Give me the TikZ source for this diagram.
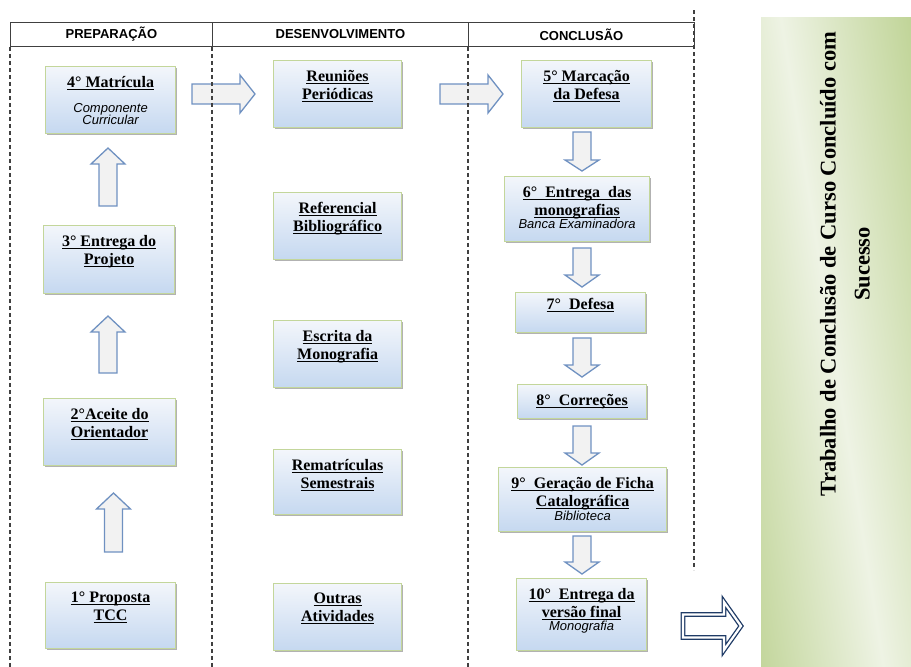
\documentclass[tikz,border=0pt]{standalone}
\usepackage{fontspec}
\setmainfont{Liberation Serif}
\newfontfamily\sansf{Liberation Sans}
\usetikzlibrary{shadows}
\definecolor{boxtop}{HTML}{F3F6FB}
\definecolor{boxbot}{HTML}{C5D8F0}
\definecolor{boxline}{HTML}{C3D69B}
\definecolor{arrline}{HTML}{6F91C1}
\definecolor{arrfill}{HTML}{F2F2F2}
\definecolor{navyc}{HTML}{1F3B66}
\definecolor{glight}{HTML}{EEF3E4}
\definecolor{gdark}{HTML}{C0D497}
\definecolor{lanec}{HTML}{404040}
\newcommand\ulx[1]{\setbox0\hbox{#1}\rlap{\rule[-2.4pt]{\wd0}{0.8pt}}\box0}
\newcommand\subt{\sansf\mdseries\itshape\fontsize{13}{12}\selectfont}
\newcommand\varrow[4]{\draw[blockarrow] ({#1-9},#2) -- ({#1-9},{#3+(#4)}) -- ({#1-17},{#3+(#4)}) -- (#1,#3) -- ({#1+17},{#3+(#4)}) -- ({#1+9},{#3+(#4)}) -- ({#1+9},#2) -- cycle;}
\newcommand\harrow[3]{\draw[blockarrow] (#2,{#1-10}) -- ({#3-15},{#1-10}) -- ({#3-15},{#1-19}) -- (#3,#1) -- ({#3-15},{#1+19}) -- ({#3-15},{#1+10}) -- (#2,{#1+10}) -- cycle;}
\begin{document}
\begin{tikzpicture}[x=1pt,y=-1pt,
  box/.style={draw=boxline, line width=1.2pt, top color=boxtop, bottom color=boxbot,
    drop shadow={shadow xshift=1.5pt, shadow yshift=-1.5pt, fill=black, opacity=.3},
    anchor=north west, inner sep=0pt},
  boxtext/.style={anchor=north, yshift=-8pt, align=center, inner sep=2pt,
    font=\fontsize{16}{18}\selectfont\bfseries, text=black},
  hcell/.style={draw=lanec, line width=0.8pt, minimum height=24, anchor=north west,
    inner sep=0pt, font=\sansf\bfseries\fontsize{13}{15}\selectfont},
  lane/.style={draw=lanec, line width=1.1pt, dash pattern=on 4pt off 3pt},
  blockarrow/.style={draw=arrline, fill=arrfill, line width=1.3pt, line join=miter},
  bigarrow/.style={draw=navyc, double=white, double distance=2.2pt, line width=1.3pt, fill=white, line join=miter}
]
\useasboundingbox (0,0) rectangle (911,667);

% result box
\node[anchor=north west, inner sep=0pt, fill=gdark, minimum width=150, minimum height=650] (gb) at (761,17) {};
\begin{scope}
  \clip (gb.north west) rectangle (gb.south east);
  \begin{scope}[transform canvas={rotate around={9:(832,342)}}]
    \shade[left color=gdark, right color=gdark, middle color=glight] (702,-100) rectangle (962,800);
  \end{scope}
\end{scope}
\node[rotate=90, align=center, font=\fontsize{22.5}{34}\selectfont\bfseries] (res) at (845,264)
  {Trabalho de Conclusão de Curso Concluído com\\Sucesso};

% left column
\node[box, minimum width=130, minimum height=67,
  label={[boxtext]north:{\ulx{4° Matrícula}\\[7pt]\subt Componente\\[-6pt]\subt Curricular}}] (m4) at (45,66) {};
\node[box, minimum width=131, minimum height=68,
  label={[boxtext]north:{\ulx{3° Entrega do}\\\ulx{Projeto}}}] (e3) at (43,225) {};
\node[box, minimum width=132, minimum height=67,
  label={[boxtext]north:{\ulx{2°Aceite do}\\\ulx{Orientador}}}] (a2) at (43,398) {};
\node[box, minimum width=130, minimum height=66,
  label={[boxtext]north:{\ulx{1° Proposta}\\\ulx{TCC}}}] (p1) at (45,582) {};

% middle column
\node[box, minimum width=128, minimum height=67,
  label={[boxtext]north:{\ulx{Reuniões}\\\ulx{Periódicas}}}] (reu) at (273,60) {};
\node[box, minimum width=128, minimum height=67,
  label={[boxtext]north:{\ulx{Referencial}\\\ulx{Bibliográfico}}}] (ref) at (273,192) {};
\node[box, minimum width=128, minimum height=67,
  label={[boxtext]north:{\ulx{Escrita da}\\\ulx{Monografia}}}] (esc) at (273,320) {};
\node[box, minimum width=128, minimum height=65,
  label={[boxtext]north:{\ulx{Rematrículas}\\\ulx{Semestrais}}}] (rem) at (273,449) {};
\node[box, minimum width=128, minimum height=67,
  label={[boxtext]north:{\ulx{Outras}\\\ulx{Atividades}}}] (out) at (273,583) {};

% right column
\node[box, minimum width=130, minimum height=67,
  label={[boxtext]north:{\ulx{5° Marcação}\\\ulx{da Defesa}}}] (c5) at (521,60) {};
\node[box, minimum width=145, minimum height=65,
  label={[boxtext]north:{\ulx{6°\enspace Entrega\enspace das}\\\ulx{monografias}\\[-5pt]\subt Banca Examinadora}}] (c6) at (504,176) {};
\node[box, minimum width=130, minimum height=40,
  label={[boxtext, yshift=4pt]north:{\ulx{7°\enspace Defesa}}}] (c7) at (515,292) {};
\node[box, minimum width=129, minimum height=34,
  label={[boxtext]north:{\ulx{8°\enspace Correções}}}] (c8) at (517,384) {};
\node[box, minimum width=168, minimum height=64,
  label={[boxtext]north:{\ulx{9°\enspace Geração de Ficha}\\\ulx{Catalográfica}\\[-4pt]\subt Biblioteca}}] (c9) at (498,467) {};
\node[box, minimum width=130, minimum height=72,
  label={[boxtext]north:{\ulx{10°\enspace Entrega da}\\\ulx{versão final}\\[-5pt]\subt Monografia}}] (c10) at (516,578) {};

% block arrows
\varrow{108}{206}{148}{16}
\varrow{108}{373}{316}{16}
\varrow{113.5}{552}{493}{16}
\harrow{94}{192}{255}
\harrow{94}{440}{503}
\varrow{582}{132}{171}{-11}
\varrow{582}{248}{287}{-12}
\varrow{582}{338}{377}{-12}
\varrow{582}{426}{465}{-12}
\varrow{582}{536}{574}{-12}
\draw[bigarrow] (683,614.5) -- (724,614.5) -- (724,602) -- (741,626) -- (724,650) -- (724,637.5) -- (683,637.5) -- cycle;

% header and lanes
\node[hcell, minimum width=202] (h1) at (10,22) {PREPARAÇÃO};
\node[hcell, minimum width=256] (h2) at (212,22) {DESENVOLVIMENTO};
\node[hcell, minimum width=226] (h3) at (468,22) {CONCLUSÃO};
\coordinate (l1) at (10,667);
\coordinate (l2) at (212,667);
\coordinate (l3) at (468,667);
\coordinate (l4a) at (694,10);
\coordinate (l4b) at (694,570);
\draw[lane] (h1.south west) -- (l1);
\draw[lane] (h2.south west) -- (l2);
\draw[lane] (h3.south west) -- (l3);
\draw[lane] (l4a) -- (l4b);
\end{tikzpicture}
\end{document}
